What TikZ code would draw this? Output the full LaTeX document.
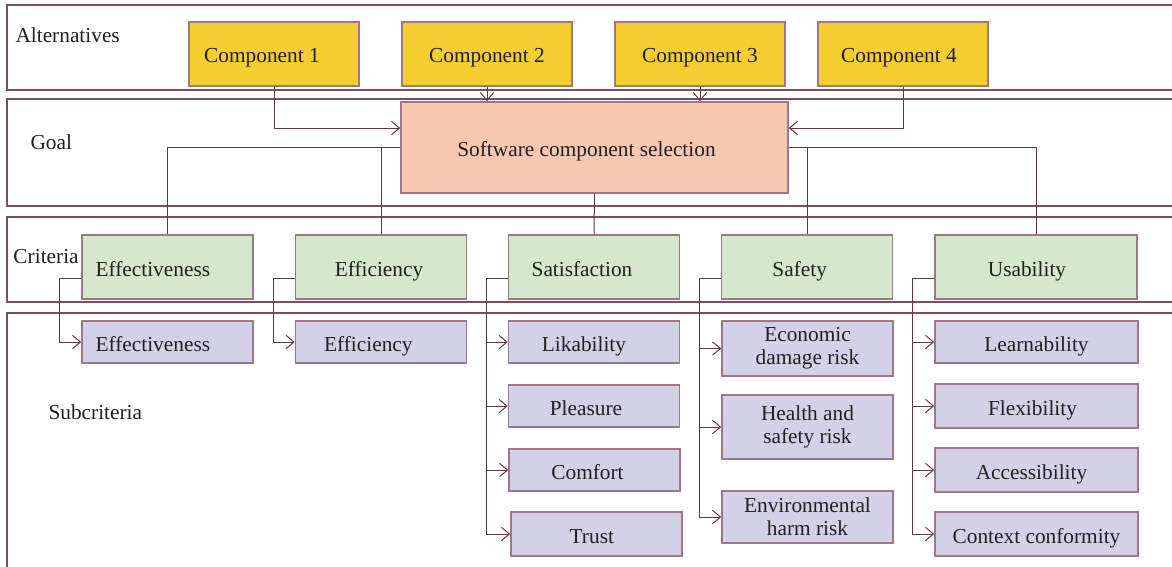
\documentclass[tikz,border=0pt]{standalone}
\usepackage{fontspec}
\setmainfont{Liberation Serif}
\usetikzlibrary{arrows.meta}

\definecolor{laneline}{RGB}{125,78,96}
\definecolor{conline}{RGB}{106,52,72}
\definecolor{boxline}{RGB}{158,120,136}
\definecolor{compfill}{RGB}{244,205,49}
\definecolor{goalfill}{RGB}{247,199,178}
\definecolor{critfill}{RGB}{211,232,205}
\definecolor{subfill}{RGB}{211,209,231}
\definecolor{txtcol}{RGB}{35,31,32}

\tikzset{every picture/.style={line width=0.75pt}}
\tikzset{
  lane/.style={draw=laneline,line width=1.1pt},
  lanelabel/.style={anchor=west,inner sep=0.75pt,text=txtcol,font=\fontsize{16}{17}\selectfont},
  box/.style={draw=boxline,line width=1.1pt,text=txtcol,inner sep=0.75pt,text height=14pt,text depth=0.5pt,font=\fontsize{16}{17}\selectfont},
  twoline/.style={align=center,text height=,text depth=},
  tshift/.style={execute at end node={\hspace*{#1pt}}},
  compbox/.style={box,fill=compfill,minimum width=127.5pt,minimum height=48pt},
  goalbox/.style={box,fill=goalfill,minimum width=290.25pt,minimum height=68.25pt},
  critbox/.style={box,fill=critfill,minimum width=128.25pt,minimum height=48pt},
  subbox/.style={box,fill=subfill,minimum width=128.25pt,minimum height=31.5pt},
  link/.style={draw=conline,line width=0.75pt},
  arr/.style={link,-{Straight Barb[length=6pt,width=10pt]}},
}

\begin{document}
\begin{tikzpicture}[x=0.75pt,y=0.75pt,yscale=-1,xscale=1]
\clip (0,0) rectangle (1172,567);

%Shape: Rectangle [lanes]
\draw[lane] (7,5) rectangle (1185,90);
\draw[lane] (7,99) rectangle (1185,206);
\draw[lane] (7,217) rectangle (1185,302);
\draw[lane] (7,313) rectangle (1185,590);

% Text Node
\node[lanelabel] (lalt) at (14,35) {Alternatives};
% Text Node
\node[lanelabel] (lgoal) at (29,142) {Goal};
% Text Node
\node[lanelabel] (lcrit) at (12,257) {Criteria};
% Text Node
\node[lanelabel] (lsub) at (47,412) {Subcriteria};

%Shape: Rectangle [alternatives]
\node[compbox,tshift=18] (c1) at (274,54) {Component 1};
\node[compbox] (c2) at (487,54) {Component 2};
\node[compbox] (c3) at (700,54) {Component 3};
\node[compbox,tshift=6] (c4) at (903,54) {Component 4};

%Shape: Rectangle [goal]
\node[goalbox,tshift=12] (goal) at (594.5,147.5) {Software component selection};

%Shape: Rectangle [criteria]
\node[critbox,tshift=22] (cr1) at (167.5,267) {Effectiveness};
\node[critbox,tshift=3] (cr2) at (381,267) {Efficiency};
\node[critbox,tshift=18] (cr3) at (594,267) {Satisfaction};
\node[critbox,tshift=11] (cr4) at (807,267) {Safety};
\node[critbox,tshift=13.5,minimum width=151.5pt] (cr5) at (1036,267) {Usability};

%Shape: Rectangle [subcriteria]
\node[subbox,tshift=22] (s11) at (167.5,342) {Effectiveness};
\node[subbox,tshift=19] (s21) at (381,342) {Efficiency};
\node[subbox,tshift=15] (s31) at (594,342) {Likability};
\node[subbox,tshift=12] (s32) at (594,406) {Pleasure};
\node[subbox,tshift=10.5] (s33) at (594.5,470) {Comfort};
\node[subbox,tshift=7,minimum height=33pt] (s34) at (596.5,534) {Trust};
\node[subbox,twoline,minimum height=41.25pt] (s41) at (807.5,348.5) {Economic\\damage risk};
\node[subbox,twoline,minimum height=48pt] (s42) at (807.5,427) {Health and\\safety risk};
\node[subbox,twoline,minimum height=39pt] (s43) at (807.5,517) {Environmental\\harm risk};
\node[subbox,minimum width=152.25pt] (s51) at (1036.5,342) {Learnability};
\node[subbox,tshift=6,minimum width=152.25pt,minimum height=33pt] (s52) at (1036.5,406) {Flexibility};
\node[subbox,tshift=7.5,minimum width=152.25pt,minimum height=33pt] (s53) at (1036.5,470) {Accessibility};
\node[subbox,minimum width=152.25pt,minimum height=33pt] (s54) at (1036.5,534) {Context conformity};

% alternatives -> goal
\draw[arr] (c1.south) |- ([yshift=-14.6pt]goal.west);
\draw[arr] (c2.south) -- (c2.south |- goal.north);
\draw[arr] (c3.south) -- (c3.south |- goal.north);
\draw[arr] (c4.south) |- ([yshift=-14.6pt]goal.east);

% goal -> criteria
\draw[link] (goal.west) -| (cr1.north);
\draw[link] (goal.west) -| (cr2.north);
\draw[link] (goal.south) -- (cr3.north);
\draw[link] (goal.east) -| (cr4.north);
\draw[link] (goal.east) -| (cr5.north);

% criteria -> subcriteria
\foreach \c/\s in {cr1/s11,cr2/s21,cr3/s31,cr3/s32,cr3/s33,cr3/s34,cr4/s41,cr4/s42,cr4/s43,cr5/s51,cr5/s52,cr5/s53,cr5/s54}
  \draw[arr] ([yshift=8.25pt]\c.west) -- ++(-21.5,0) |- (\s.west);

\end{tikzpicture}
\end{document}
